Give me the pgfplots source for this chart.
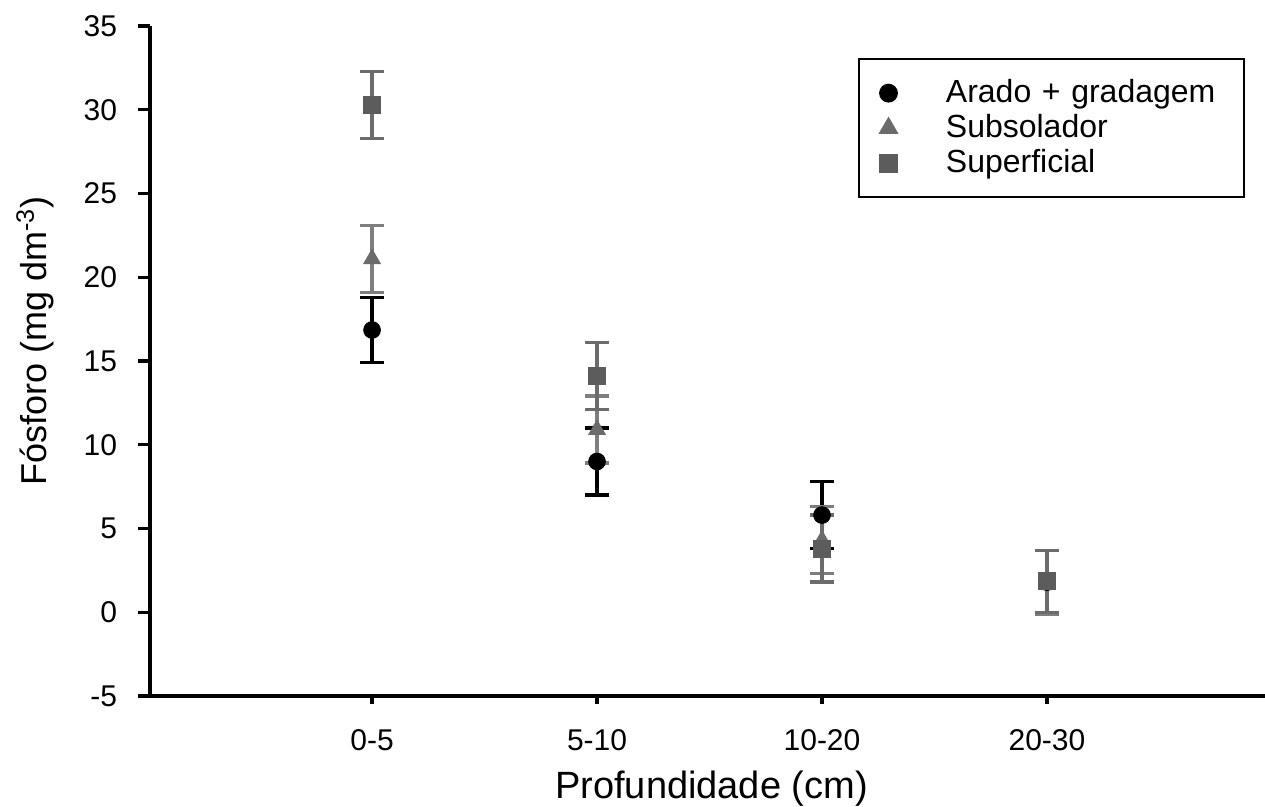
\documentclass[border=0pt]{standalone}
\usepackage{fontspec}
\setmainfont{Liberation Sans}
\usepackage{pgfplots}
\pgfplotsset{compat=1.18}

\definecolor{triM}{HTML}{6B6B6B}
\definecolor{triE}{HTML}{7E7E7E}
\definecolor{sqM}{HTML}{5C5C5C}
\definecolor{sqE}{HTML}{6C6C6C}

\begin{document}
\begin{tikzpicture}
\path[use as bounding box] (-75pt,-55.5pt) rectangle (557.5pt,348pt);
\begin{axis}[
  scale only axis, width=557.5pt, height=335pt,
  xmin=-0.987, xmax=3.969, ymin=-5, ymax=35,
  axis lines=left, axis line style={-, line width=1.8pt},
  xtick={0,1,2,3}, xticklabels={0-5,5-10,10-20,20-30},
  ytick={-5,0,5,10,15,20,25,30,35},
  yticklabels={-5,0,5,10,15,20,25,30,35},
  tick align=outside, tick style={line width=1.6pt, black},
  xtick style={/pgfplots/major tick length=4pt},
  ytick style={/pgfplots/major tick length=6pt},
  ticklabel style={font=\fontsize{15}{18}\selectfont},
  xticklabel style={anchor=base, inner sep=0pt, yshift=-23pt},
  yticklabel style={anchor=east, inner sep=0pt, xshift=-12pt},
  xlabel={Profundidade (cm)},
  ylabel={Fósforo (mg dm\textsuperscript{-3})},
  xlabel style={font=\fontsize{19}{22}\selectfont,
    at={([xshift=2pt,yshift=-46.5pt]axis description cs:0.5,0)}, anchor=center},
  ylabel style={font=\fontsize{18}{21}\selectfont,
    at={([xshift=-57.5pt,yshift=10pt]axis description cs:0,0.5)}, anchor=center},
  legend style={at={(axis description cs:0.982,0.952)}, anchor=north east,
    draw=black, line width=1pt, inner xsep=10.5pt, inner ysep=8.25pt,
    column sep=24.4pt, row sep=0pt,
    font=\fontsize{16}{19}\selectfont,
    nodes={inner sep=0pt, text height=13.5pt, text depth=4pt, text width=138.5pt, align=left}},
  legend cell align=left,
]
\addplot[only marks, mark=*, mark size=4.2pt, black,
  error bars/.cd, y dir=both, y explicit,
  error bar style={line width=1.7pt, black},
  error mark options={line width=1.7pt, mark size=6pt, rotate=90, black}]
  coordinates {(0,16.85) +- (0,1.95) (1,9.0) +- (0,2.0) (2,5.8) +- (0,2.0) (3,1.8) +- (0,1.9)};
\addlegendentry{Arado + gradagem}
\addplot[only marks, mark=triangle*, mark size=4.8pt, triM,
  error bars/.cd, y dir=both, y explicit,
  error bar style={line width=1.7pt, triE},
  error mark options={line width=1.7pt, mark size=6pt, rotate=90, triE}]
  coordinates {(0,21.1) +- (0,2.0) (1,10.9) +- (0,2.0) (2,4.3) +- (0,2.0) (3,1.8) +- (0,1.9)};
\addlegendentry{Subsolador}
\addplot[only marks, mark=square*, mark size=4.3pt, sqM,
  error bars/.cd, y dir=both, y explicit,
  error bar style={line width=1.7pt, sqE},
  error mark options={line width=1.7pt, mark size=6pt, rotate=90, sqE}]
  coordinates {(0,30.3) +- (0,2.0) (1,14.1) +- (0,2.0) (2,3.8) +- (0,2.0) (3,1.85) +- (0,1.85)};
\addlegendentry{Superficial}
\end{axis}
\end{tikzpicture}
\end{document}
